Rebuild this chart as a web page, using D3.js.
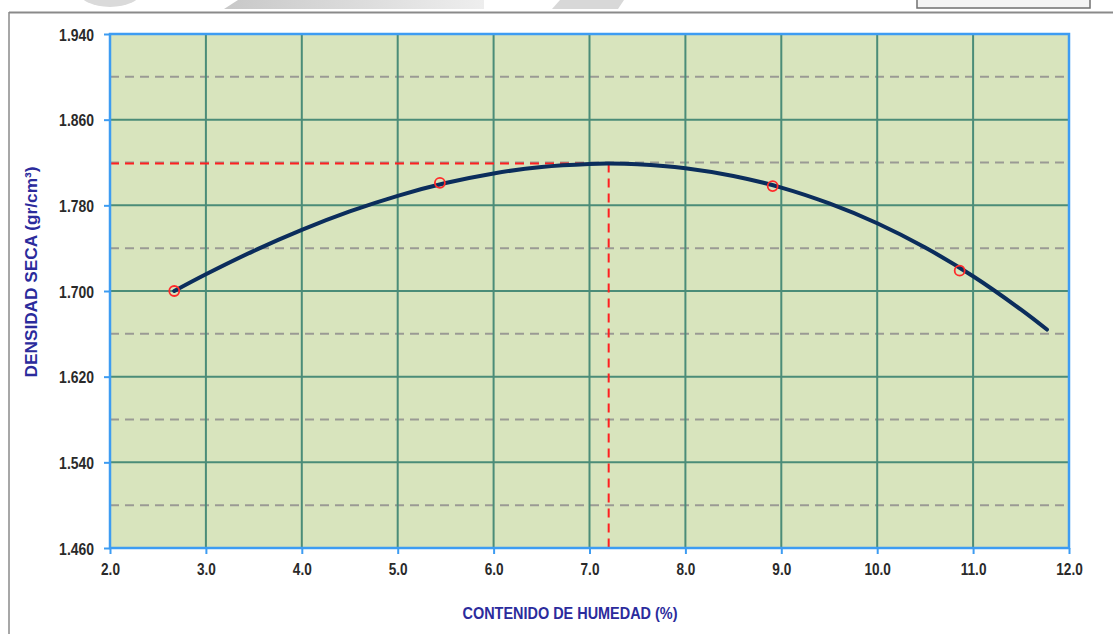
<!DOCTYPE html>
<html>
<head>
<meta charset="utf-8">
<script src="https://cdn.jsdelivr.net/npm/d3@7"></script>
<style>
  html, body { margin: 0; padding: 0; background: #fff; }
  svg { display: block; }
  .tick-label { font-family: "Liberation Sans", Arial, sans-serif; font-weight: bold; font-size: 17px; fill: #2a2a2a; }
  .axis-title { font-family: "Liberation Sans", Arial, sans-serif; font-weight: bold; font-size: 17px; fill: #2b2b9c; }
</style>
</head>
<body>
<script>
// Compaction test: measured points
const moisture = [2.67, 5.44, 8.91, 10.86];
const dryDensity = [1.700, 1.801, 1.798, 1.719];

// Fitted trend curve, sampled along the moisture range
const curveMoisture = [2.67, 3.0, 3.5, 4.0, 4.5, 5.0, 5.5, 6.0, 6.5, 7.0, 7.2, 7.5, 8.0, 8.5, 9.0, 9.5, 10.0, 10.5, 11.0, 11.5, 11.77];
const curveDensity  = [1.700, 1.7156, 1.7375, 1.7571, 1.7743, 1.7889, 1.8008, 1.8098, 1.8159, 1.8187, 1.819, 1.8184, 1.8147, 1.8074, 1.7966, 1.7818, 1.7633, 1.7406, 1.7138, 1.6826, 1.664];

// Optimum moisture content and maximum dry density
const optimumMoisture = 7.2;
const maxDensity = 1.819;

// Axis ticks
const xTicks = [2, 3, 4, 5, 6, 7, 8, 9, 10, 11, 12];
const yTicks = [1.46, 1.54, 1.62, 1.70, 1.78, 1.86, 1.94];
const yMinorTicks = [1.50, 1.58, 1.66, 1.74, 1.82, 1.90];

const W = 1113, H = 634;
const svg = d3.select("body").append("svg").attr("width", W).attr("height", H);

// Squeeze text horizontally to a narrow face
function condense(sel, factor) {
  sel.each(function () {
    const w = this.getComputedTextLength();
    d3.select(this).attr("textLength", w * factor).attr("lengthAdjust", "spacingAndGlyphs");
  });
}

// Page decoration: faded header shapes, frame lines and box
const head = svg.append("g");
const grad = svg.append("defs").append("linearGradient").attr("id", "hdr").attr("x1", 0).attr("x2", 1);
grad.append("stop").attr("offset", 0).attr("stop-color", "#c8c8c8");
grad.append("stop").attr("offset", 1).attr("stop-color", "#eeeeee");
head.append("ellipse").attr("cx", 110).attr("cy", -8).attr("rx", 31).attr("ry", 15).attr("fill", "#dadada");
head.append("path").attr("d", "M238,0 L484,0 L484,9 L224,9 Z").attr("fill", "url(#hdr)");
head.append("path").attr("d", "M560,0 L624,0 L618,9 L552,9 Z").attr("fill", "#d8d8d8");
head.append("rect").attr("x", 917).attr("y", -2).attr("width", 173).attr("height", 10)
  .attr("fill", "#f4f4f4").attr("stroke", "#707070").attr("stroke-width", 1.5);
head.append("line").attr("x1", 9).attr("x2", W).attr("y1", 12.5).attr("y2", 12.5).attr("stroke", "#8a8a8a").attr("stroke-width", 2);
head.append("line").attr("x1", 9).attr("x2", 9).attr("y1", 12).attr("y2", H).attr("stroke", "#8a8a8a").attr("stroke-width", 1.5);

const plot = { left: 110, right: 1069, top: 34, bottom: 548 };
const x = d3.scaleLinear().domain([2, 12]).range([plot.left, plot.right]);
const y = d3.scaleLinear().domain([1.46, 1.94]).range([plot.bottom, plot.top]);

// Plot background
svg.append("rect").attr("x", plot.left).attr("y", plot.top)
  .attr("width", plot.right - plot.left).attr("height", plot.bottom - plot.top)
  .attr("fill", "#d8e4bd");

// Minor (dashed) horizontal gridlines
svg.append("g").selectAll("line").data(yMinorTicks).join("line")
  .attr("x1", plot.left).attr("x2", plot.right)
  .attr("y1", d => y(d)).attr("y2", d => y(d))
  .attr("stroke", "#9a9a94").attr("stroke-width", 2).attr("stroke-dasharray", "9,6");

// Major gridlines
svg.append("g").selectAll("line").data(yTicks).join("line")
  .attr("x1", plot.left).attr("x2", plot.right)
  .attr("y1", d => y(d)).attr("y2", d => y(d))
  .attr("stroke", "#4b8c78").attr("stroke-width", 2);
svg.append("g").selectAll("line").data(xTicks).join("line")
  .attr("x1", d => x(d)).attr("x2", d => x(d))
  .attr("y1", plot.top).attr("y2", plot.bottom)
  .attr("stroke", "#4b8c78").attr("stroke-width", 2);

// Optimum guide lines
svg.append("line")
  .attr("x1", plot.left).attr("x2", x(optimumMoisture))
  .attr("y1", y(maxDensity)).attr("y2", y(maxDensity))
  .attr("stroke", "#ff2020").attr("stroke-width", 2).attr("stroke-dasharray", "9,6");
svg.append("line")
  .attr("x1", x(optimumMoisture)).attr("x2", x(optimumMoisture))
  .attr("y1", y(maxDensity)).attr("y2", plot.bottom)
  .attr("stroke", "#ff2020").attr("stroke-width", 2).attr("stroke-dasharray", "9,6");

// Axes (blue frame with outward ticks)
const xAxis = d3.axisBottom(x).tickValues(xTicks).tickSize(6).tickFormat(d3.format(".1f"));
const yAxis = d3.axisLeft(y).tickValues(yTicks).tickSize(6).tickFormat(d3.format(".3f"));
const gx = svg.append("g").attr("transform", `translate(0,${plot.bottom})`).call(xAxis);
const gy = svg.append("g").attr("transform", `translate(${plot.left},0)`).call(yAxis);
[gx, gy].forEach(g => {
  g.attr("font-size", null).attr("font-family", null);
  g.select(".domain").remove();
  g.selectAll(".tick line").attr("stroke", "#3d9cf2").attr("stroke-width", 2);
  g.selectAll(".tick text").attr("class", "tick-label").attr("fill", null);
});
gx.selectAll(".tick text").attr("y", 12).attr("dy", "0.9em");
gy.selectAll(".tick text").attr("x", -16).attr("dy", "0.36em");
condense(gx.selectAll(".tick text"), 0.8);
condense(gy.selectAll(".tick text"), 0.82);

svg.append("rect").attr("x", plot.left).attr("y", plot.top)
  .attr("width", plot.right - plot.left).attr("height", plot.bottom - plot.top)
  .attr("fill", "none").attr("stroke", "#3d9cf2").attr("stroke-width", 2.5);

// Trend curve
const curve = d3.line().x(d => x(d[0])).y(d => y(d[1])).curve(d3.curveCatmullRom);
svg.append("path")
  .datum(d3.zip(curveMoisture, curveDensity))
  .attr("d", curve)
  .attr("fill", "none").attr("stroke", "#0b2d5c").attr("stroke-width", 4).attr("stroke-linecap", "round");

// Measured points
svg.append("g").selectAll("circle").data(d3.zip(moisture, dryDensity)).join("circle")
  .attr("cx", d => x(d[0])).attr("cy", d => y(d[1])).attr("r", 5)
  .attr("fill", "none").attr("stroke", "#ff2a2a").attr("stroke-width", 1.8);

// Axis titles
svg.append("text").attr("class", "axis-title")
  .attr("x", 570).attr("y", 619).attr("text-anchor", "middle")
  .attr("textLength", 215).attr("lengthAdjust", "spacingAndGlyphs")
  .text("CONTENIDO DE HUMEDAD (%)");
svg.append("text").attr("class", "axis-title")
  .attr("transform", "translate(37,272) rotate(-90)").attr("text-anchor", "middle")
  .attr("font-size", 15)
  .attr("textLength", 211).attr("lengthAdjust", "spacingAndGlyphs")
  .text("DENSIDAD SECA (gr/cm³)");
</script>
</body>
</html>
